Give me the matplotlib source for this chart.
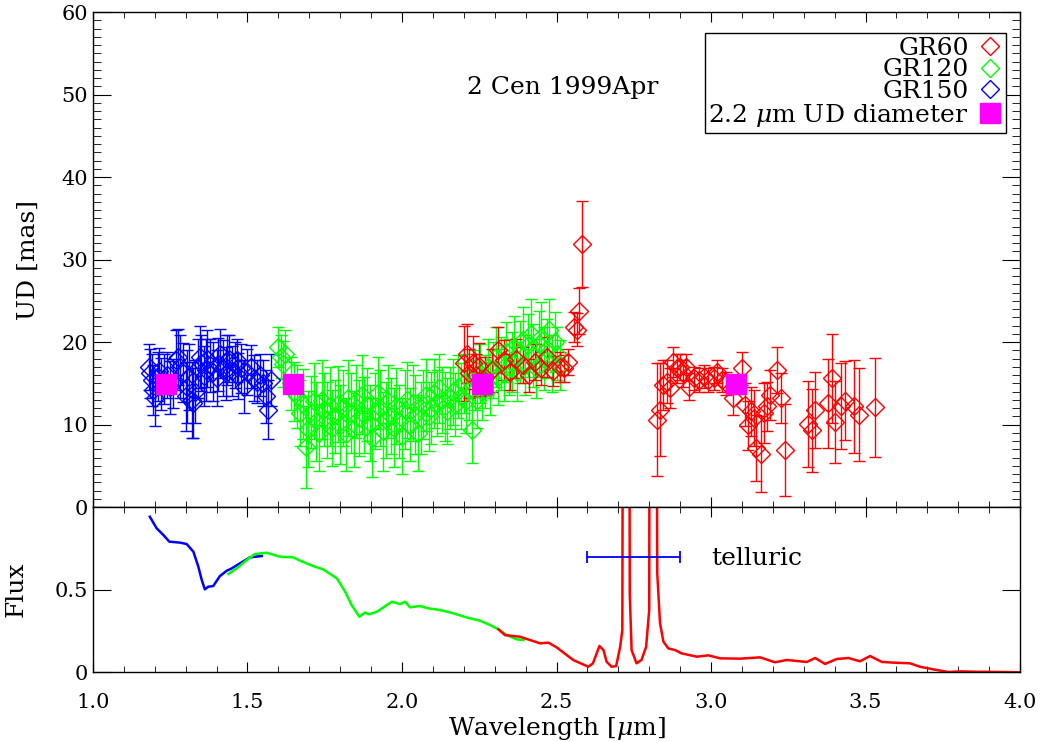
# ud_spectrum_2cen.py
import matplotlib
matplotlib.use("Agg")
import matplotlib.pyplot as plt
from matplotlib.ticker import MultipleLocator

plt.rcParams["font.family"] = "DejaVu Serif"
plt.rcParams["mathtext.fontset"] = "dejavuserif"
plt.rcParams["font.size"] = 15

# Step 1: UD diameters per grating
blue_wl = [1.18, 1.185, 1.19, 1.195, 1.20, 1.21, 1.215, 1.22, 1.23, 1.24, 1.25, 1.26, 1.27,
           1.275, 1.28, 1.29, 1.30, 1.305, 1.31, 1.32, 1.325, 1.33, 1.34, 1.345, 1.35, 1.36,
           1.365, 1.37, 1.38, 1.39, 1.40, 1.405, 1.41, 1.42, 1.43, 1.435, 1.44, 1.45, 1.46,
           1.465, 1.47, 1.48, 1.49, 1.50, 1.51, 1.52, 1.53, 1.54, 1.55, 1.56, 1.565, 1.575]
blue_ud = [17.0, 16.2, 15.4, 14.2, 13.2, 15.8, 16.5, 14.9, 15.5, 16.0, 14.5, 15.0, 17.8,
           18.2, 17.0, 16.3, 13.4, 14.6, 15.8, 13.0, 12.6, 14.0, 16.8, 18.2, 17.5, 15.9,
           16.6, 18.0, 17.2, 16.4, 15.6, 17.3, 18.6, 16.8, 16.2, 17.8, 18.0, 16.5, 17.2,
           17.8, 15.9, 16.8, 14.6, 16.4, 17.0, 15.6, 15.2, 16.0, 15.0, 13.4, 11.8, 15.4]
blue_err = [2.8, 3.0, 3.2, 3.0, 3.4, 3.0, 2.8, 3.2, 3.0, 2.8, 3.2, 3.0, 3.6,
            3.4, 3.8, 3.6, 4.2, 4.4, 4.0, 4.6, 4.2, 3.8, 3.6, 3.8, 3.4, 3.6,
            3.8, 3.4, 3.2, 3.6, 3.4, 3.2, 3.0, 3.4, 3.2, 3.0, 2.8, 3.0, 2.8,
            2.6, 2.8, 3.0, 3.2, 2.8, 2.6, 2.8, 2.6, 2.6, 2.8, 3.2, 3.6, 3.2]

green_wl = [1.600, 1.608, 1.615, 1.622, 1.640, 1.650, 1.659, 1.670, 1.680, 1.690, 1.697,
            1.705, 1.714, 1.722, 1.731, 1.740, 1.748, 1.757, 1.766, 1.774, 1.783, 1.792,
            1.800, 1.809, 1.818, 1.826, 1.835, 1.844, 1.852, 1.861, 1.870, 1.878, 1.887,
            1.896, 1.904, 1.913, 1.922, 1.930, 1.939, 1.948, 1.956, 1.965, 1.974, 1.982,
            1.991, 2.000, 2.009, 2.017, 2.026, 2.035, 2.043, 2.052, 2.061, 2.069, 2.078,
            2.087, 2.095, 2.104, 2.113, 2.121, 2.130, 2.139, 2.147, 2.156, 2.165, 2.173,
            2.182, 2.191, 2.200, 2.208, 2.217, 2.227, 2.235, 2.243, 2.252, 2.260, 2.269,
            2.278, 2.286, 2.295, 2.304, 2.312, 2.321, 2.330, 2.338, 2.347, 2.356, 2.364,
            2.373, 2.382, 2.390, 2.399, 2.408, 2.416, 2.425, 2.434, 2.442, 2.451, 2.460,
            2.468, 2.477, 2.486, 2.494, 2.503, 2.512]
green_ud = [19.4, 18.2, 17.3, 18.5, 15.0, 14.0, 13.4, 11.4, 12.5, 7.3, 9.5,
            11.5, 12.8, 10.4, 9.0, 13.0, 11.8, 10.6, 12.2, 9.6, 11.0, 12.5,
            10.0, 12.0, 8.8, 13.2, 11.4, 9.5, 12.8, 10.8, 13.6, 11.2, 12.4,
            10.2, 8.4, 11.6, 13.8, 12.0, 9.2, 10.6, 12.8, 11.0, 9.6, 12.2,
            10.4, 8.6, 11.8, 13.0, 10.0, 12.6, 11.2, 9.0, 10.8, 12.4, 13.6,
            11.0, 12.0, 13.8, 12.6, 14.4, 13.0, 12.2, 11.6, 13.2, 14.0, 12.4,
            14.6, 13.4, 15.0, 12.8, 14.2, 9.3, 15.4, 13.0, 16.2, 14.0, 15.2,
            17.0, 14.4, 16.6, 18.2, 15.8, 17.4, 16.2, 18.8, 17.0, 17.6, 19.4,
            16.4, 18.8, 20.2, 17.2, 19.6, 21.0, 18.4, 16.8, 19.8, 20.6, 18.0,
            19.2, 21.4, 17.4, 20.0, 18.6, 17.2]
green_err = [2.4, 2.6, 2.8, 3.0, 3.2, 3.6, 3.8, 4.0, 4.2, 5.0, 4.6,
             4.4, 4.6, 4.8, 4.6, 4.8, 4.4, 4.6, 4.8, 4.6, 4.4, 4.6,
             4.8, 4.6, 4.4, 4.6, 4.8, 4.6, 4.4, 4.6, 4.8, 4.6, 4.4,
             4.6, 4.8, 4.6, 4.4, 4.6, 4.8, 4.6, 4.4, 4.6, 4.8, 4.6,
             4.4, 4.6, 4.8, 4.6, 4.4, 4.6, 4.8, 4.6, 4.4, 4.2, 4.4,
             4.2, 4.4, 4.2, 4.0, 4.2, 4.0, 4.2, 4.0, 3.8, 4.0, 3.8,
             3.8, 4.0, 3.6, 3.8, 3.6, 4.0, 3.6, 3.4, 3.6, 3.4, 3.2,
             3.4, 3.2, 3.4, 3.6, 3.4, 3.2, 3.4, 3.6, 3.4, 3.6, 3.8,
             3.6, 3.8, 4.0, 3.6, 3.8, 4.2, 3.8, 3.6, 4.0, 4.2, 3.8,
             3.6, 3.8, 3.4, 3.6, 3.2, 3.0]

red_wl = [2.200, 2.209, 2.218, 2.230, 2.240, 2.250, 2.270, 2.290, 2.310, 2.330, 2.350,
          2.370, 2.390, 2.410, 2.430, 2.450, 2.470, 2.490, 2.510, 2.523, 2.538, 2.555,
          2.565, 2.572, 2.581,
          2.824, 2.835, 2.846, 2.858, 2.868, 2.878, 2.890, 2.900, 2.910, 2.920, 2.930,
          2.946, 2.960, 2.977, 2.990, 3.010, 3.020, 3.035, 3.050, 3.072, 3.099, 3.110,
          3.120, 3.130, 3.140, 3.145, 3.161, 3.172, 3.180, 3.190, 3.212, 3.228, 3.239,
          3.315, 3.326, 3.337, 3.380, 3.390, 3.400, 3.420, 3.435, 3.464, 3.478, 3.530]
red_ud = [17.4, 18.6, 16.2, 17.5, 16.0, 17.1, 15.8, 16.6, 19.0, 17.8, 16.4,
          18.0, 17.2, 16.0, 17.6, 16.8, 18.2, 16.5, 17.0, 16.8, 17.6, 21.8,
          21.5, 23.8, 31.9,
          10.6, 11.8, 14.8, 15.2, 14.4, 17.6, 16.8, 17.0, 16.2, 17.0, 14.6,
          15.6, 15.4, 15.8, 15.4, 15.6, 16.4, 15.4, 15.0, 13.2, 16.8, 12.4,
          9.9, 11.6, 10.8, 7.1, 6.4, 11.4, 12.2, 13.6, 16.6, 13.2, 6.9,
          10.1, 9.3, 11.8, 12.6, 15.6, 10.3, 12.2, 12.9, 12.2, 11.2, 12.1]
red_err = [4.6, 3.6, 3.0, 3.2, 2.6, 2.8, 2.4, 2.6, 2.8, 2.4, 2.2,
           2.4, 2.2, 2.0, 2.2, 2.0, 2.4, 1.8, 1.8, 1.6, 1.6, 1.8,
           2.0, 2.8, 5.2,
           6.8, 5.6, 3.0, 2.6, 2.4, 1.8, 1.8, 1.6, 1.6, 1.6, 1.6,
           1.4, 1.4, 1.4, 1.4, 1.4, 1.4, 1.4, 1.4, 2.0, 2.0, 2.6,
           3.0, 3.0, 3.4, 4.0, 4.6, 3.6, 3.0, 3.0, 2.8, 3.0, 5.6,
           5.2, 5.0, 4.6, 5.4, 5.4, 5.0, 5.2, 4.8, 5.6, 5.6, 6.0]

# 2.2 micron UD diameter
k_wl = [1.236, 1.646, 2.258, 3.081]
k_ud = [14.85, 14.85, 14.85, 14.85]

# Step 2: flux spectra
blue_swl = [1.184, 1.206, 1.228, 1.247, 1.265, 1.282, 1.303, 1.325, 1.341, 1.352, 1.362,
            1.373, 1.389, 1.411, 1.433, 1.449, 1.476, 1.508, 1.546]
blue_flux = [0.941, 0.871, 0.830, 0.790, 0.787, 0.784, 0.776, 0.729, 0.638, 0.558, 0.501,
             0.517, 0.521, 0.582, 0.614, 0.628, 0.659, 0.695, 0.703]

green_swl = [1.438, 1.465, 1.497, 1.524, 1.562, 1.605, 1.648, 1.670, 1.713, 1.745, 1.789,
             1.816, 1.837, 1.862, 1.880, 1.894, 1.918, 1.940, 1.967, 1.994, 2.010, 2.026,
             2.058, 2.085, 2.123, 2.166, 2.209, 2.252, 2.285, 2.312, 2.339, 2.371, 2.393]
green_flux = [0.594, 0.628, 0.678, 0.715, 0.723, 0.699, 0.695, 0.675, 0.642, 0.622, 0.568,
              0.487, 0.406, 0.335, 0.360, 0.350, 0.365, 0.392, 0.426, 0.412, 0.426, 0.392,
              0.400, 0.386, 0.376, 0.356, 0.331, 0.311, 0.285, 0.259, 0.224, 0.198, 0.194]

red_swl = [2.312, 2.333, 2.360, 2.382, 2.414, 2.447, 2.474, 2.500, 2.533, 2.554, 2.603,
           2.618, 2.639, 2.652, 2.662, 2.678, 2.693, 2.706, 2.713, 2.716, 2.735, 2.737,
           2.743, 2.759, 2.775, 2.790, 2.800, 2.802, 2.822, 2.826, 2.835, 2.846, 2.862,
           2.884, 2.905, 2.954, 2.992, 3.029, 3.094, 3.159, 3.207, 3.245, 3.310, 3.337,
           3.369, 3.407, 3.445, 3.482, 3.515, 3.553, 3.590, 3.644, 3.676, 3.720, 3.768,
           3.806, 3.850, 3.900, 3.950, 4.000]
red_flux = [0.259, 0.224, 0.218, 0.214, 0.194, 0.174, 0.178, 0.150, 0.103, 0.073, 0.032,
            0.053, 0.158, 0.133, 0.063, 0.032, 0.036, 0.153, 0.254, 3.000, 3.000, 0.477,
            0.133, 0.053, 0.073, 0.153, 0.376, 3.000, 3.000, 0.598, 0.295, 0.184, 0.143,
            0.133, 0.113, 0.093, 0.101, 0.083, 0.081, 0.089, 0.059, 0.073, 0.061, 0.085,
            0.049, 0.079, 0.085, 0.065, 0.097, 0.061, 0.057, 0.053, 0.032, 0.016, 0.000,
            0.004, 0.002, 0.001, 0.000, -0.002]

# telluric band
tell_wl = 2.75
tell_half = 0.15
tell_flux = 0.70

# Step 3: figure layout (two stacked panels, shared wavelength axis)
fig = plt.figure(figsize=(10.4, 7.42), dpi=100)
ax1 = fig.add_axes([0.0894, 0.3167, 0.8914, 0.6671])
ax2 = fig.add_axes([0.0894, 0.0943, 0.8914, 0.2224], sharex=ax1)

ebkw = dict(fmt="D", mfc="none", ms=9, mew=1.0, elinewidth=1.0, capsize=4.5, capthick=1.0)
ax1.errorbar(blue_wl, blue_ud, yerr=blue_err, color="#0000ff", ecolor="#0000ff", **ebkw)
ax1.errorbar(green_wl, green_ud, yerr=green_err, color="#00ff00", ecolor="#00ff00", **ebkw)
ax1.errorbar(red_wl, red_ud, yerr=red_err, color="#ff0000", ecolor="#ff0000", **ebkw)
ax1.plot(k_wl, k_ud, "s", color="#ff00ff", ms=15, zorder=5)

# legend, drawn with proxy handles so that labels sit right-aligned
h60, = ax1.plot([], [], "D", mfc="none", mec="#ff0000", ms=9)
h120, = ax1.plot([], [], "D", mfc="none", mec="#00ff00", ms=9)
h150, = ax1.plot([], [], "D", mfc="none", mec="#0000ff", ms=9)
hk, = ax1.plot([], [], "s", color="#ff00ff", ms=14)
leg = ax1.legend([h60, h120, h150, hk],
                 ["GR60", "GR120", "GR150", r"2.2 $\mu$m UD diameter"],
                 loc="upper right", bbox_to_anchor=(0.985, 0.958), borderaxespad=0,
                 markerfirst=False, fancybox=False, framealpha=1, edgecolor="black",
                 handlelength=1.0, handletextpad=0.35, labelspacing=-0.05,
                 borderpad=0.15, fontsize=18)
leg.get_frame().set_linewidth(1.0)

ax1.text(2.21, 50.9, "2 Cen 1999Apr", fontsize=18, va="center")

ax1.set_xlim(1.0, 4.0)
ax1.set_ylim(0, 60)
ax1.set_ylabel("UD [mas]", fontsize=18)
ax1.yaxis.set_major_locator(MultipleLocator(10))
ax1.yaxis.set_minor_locator(MultipleLocator(1))
ax1.tick_params(labelbottom=False)

# Step 4: lower panel with the flux spectra
ax2.plot(blue_swl, blue_flux, color="#0000ff", lw=1.8)
ax2.plot(green_swl, green_flux, color="#00ff00", lw=1.8)
ax2.plot(red_swl, red_flux, color="#ff0000", lw=1.8)
ax2.errorbar([tell_wl], [tell_flux], xerr=[tell_half], color="#0000ff", lw=1.3,
             capsize=4, capthick=1.3)
ax2.text(3.0, 0.69, "telluric", fontsize=18, va="center")

ax2.set_ylim(0, 1.0)
ax2.set_yticks([0, 0.5])
ax2.set_yticklabels(["0", "0.5"])
ax2.set_ylabel("Flux", fontsize=18)
ax2.set_xlabel(r"Wavelength [$\mu$m]", fontsize=18, labelpad=2)
ax2.xaxis.set_major_locator(MultipleLocator(0.5))
ax2.xaxis.set_minor_locator(MultipleLocator(0.1))
ax2.xaxis.set_major_formatter(plt.FormatStrFormatter("%.1f"))

for ax in (ax1, ax2):
    ax.tick_params(which="both", direction="in", top=True, right=True, labelsize=15)
    ax.tick_params(axis="x", which="major", length=7)
    ax.tick_params(axis="x", which="minor", length=4)
    ax.tick_params(axis="y", which="major", length=13)
    ax.tick_params(axis="y", which="minor", length=6)
    for s in ax.spines.values():
        s.set_linewidth(1.0)

ax2.tick_params(axis="x", which="major", pad=15)

ax1.yaxis.set_label_coords(-0.057, 0.5)
ax2.yaxis.set_label_coords(-0.070, 0.5)

plt.savefig("out.png", dpi=100)
